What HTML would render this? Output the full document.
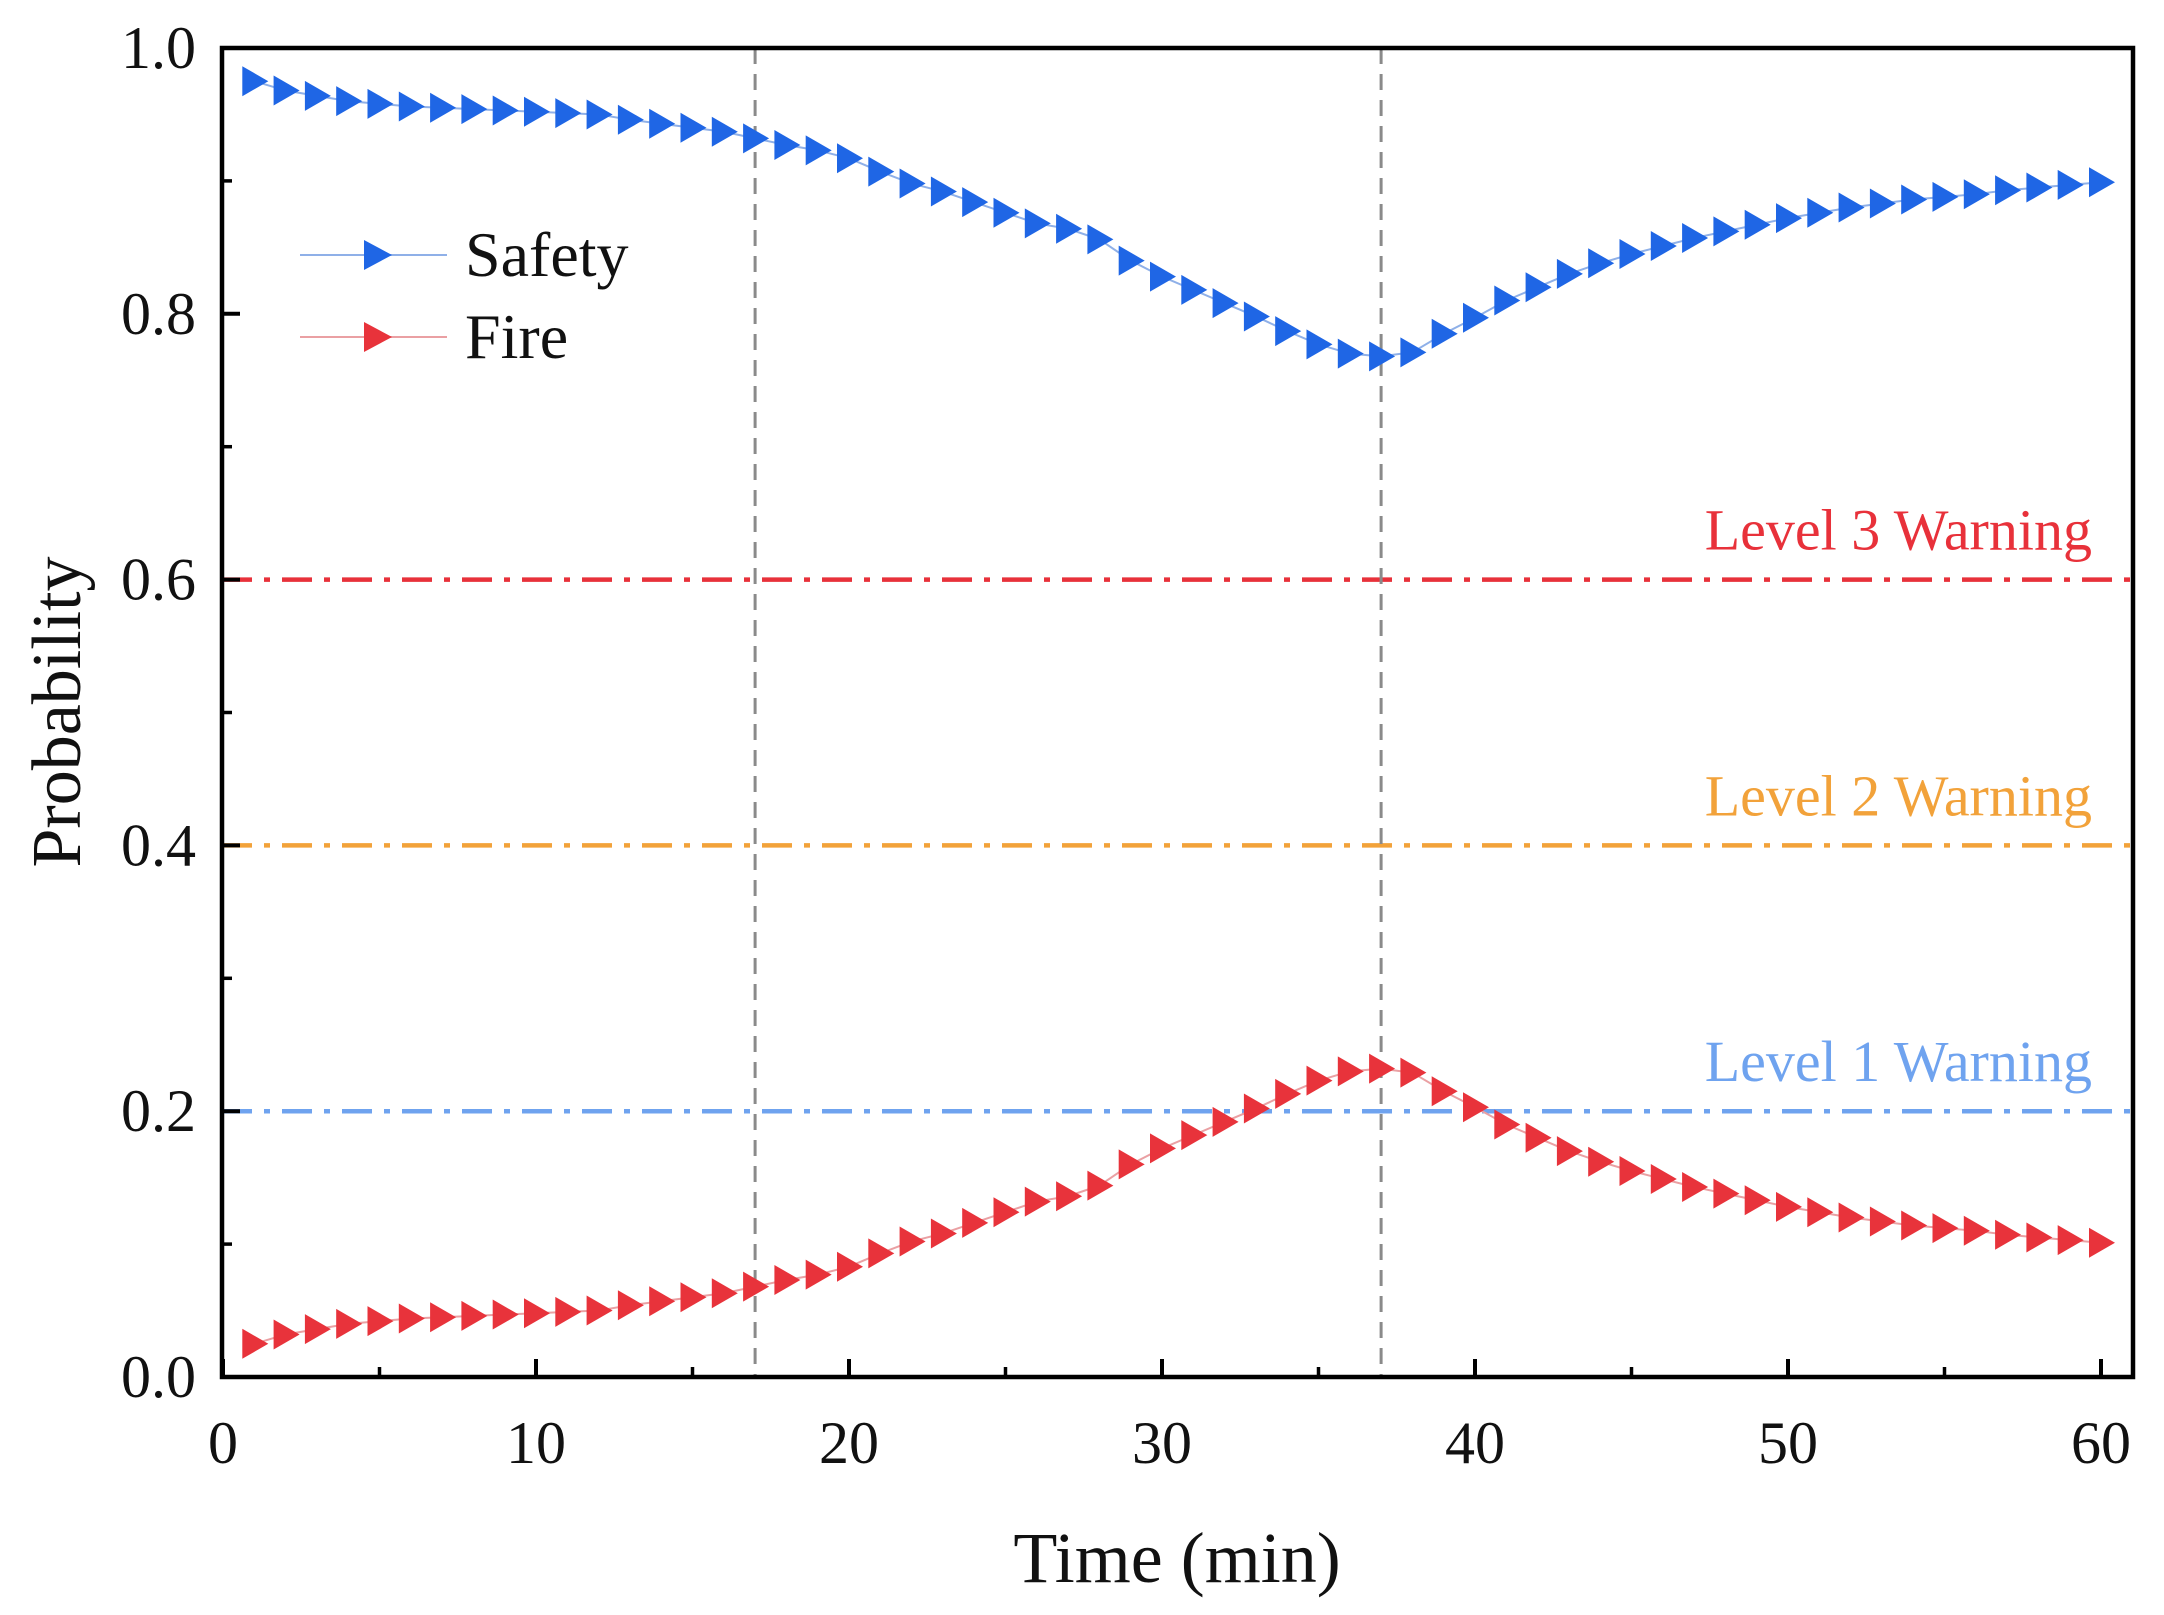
<!DOCTYPE html>
<html><head><meta charset="utf-8"><style>
html,body{margin:0;padding:0;background:#fff;}
svg{display:block;font-family:"Liberation Serif",serif;}
</style></head><body>
<svg id="chart" width="2164" height="1615" viewBox="0 0 2164 1615">
<g id="grid"></g>
<g id="marks"></g>
<g id="axes"></g>
</svg>
<script>
const times=[1,2,3,4,5,6,7,8,9,10,11,12,13,14,15,16,17,18,19,20,21,22,23,24,25,26,27,28,29,30,31,32,33,34,35,36,37,38,39,40,41,42,43,44,45,46,47,48,49,50,51,52,53,54,55,56,57,58,59,60];
const safety=[0.975,0.968,0.964,0.960,0.958,0.956,0.955,0.954,0.953,0.952,0.951,0.950,0.946,0.943,0.940,0.937,0.932,0.927,0.923,0.917,0.907,0.898,0.892,0.884,0.876,0.868,0.864,0.856,0.840,0.828,0.818,0.808,0.798,0.787,0.777,0.770,0.768,0.771,0.785,0.797,0.810,0.820,0.830,0.838,0.845,0.851,0.857,0.862,0.867,0.872,0.876,0.880,0.883,0.886,0.888,0.890,0.893,0.895,0.897,0.899];
const fire=[0.025,0.032,0.036,0.040,0.042,0.044,0.045,0.046,0.047,0.048,0.049,0.050,0.054,0.057,0.060,0.063,0.068,0.073,0.077,0.083,0.093,0.102,0.108,0.116,0.124,0.132,0.136,0.144,0.160,0.172,0.182,0.192,0.202,0.213,0.223,0.230,0.232,0.229,0.215,0.203,0.190,0.180,0.170,0.162,0.155,0.149,0.143,0.138,0.133,0.128,0.124,0.120,0.117,0.114,0.112,0.110,0.107,0.105,0.103,0.101];
const xTicks=[0,10,20,30,40,50,60];
const yTicks=[0.0,0.2,0.4,0.6,0.8,1.0];
const warnLevels=[0.2,0.4,0.6];
const warnLabels=["Level 1 Warning","Level 2 Warning","Level 3 Warning"];
const markerTimes=[17,37];

const L=222,R=2133,T=48,B=1377;
const X0=223,XU=31.3;
const xs=v=>X0+v*XU;
const ys=v=>B-(v)*(B-T);
const NS="http://www.w3.org/2000/svg";
function mk(tag,attrs,parent,text){const e=document.createElementNS(NS,tag);for(const k in attrs)e.setAttribute(k,attrs[k]);if(text!==undefined)e.textContent=text;parent.appendChild(e);return e;}
const grid=document.getElementById('grid'),marks=document.getElementById('marks'),axes=document.getElementById('axes');
const warnColors=["#6fa3ef","#f2a23a","#e8313a"];
warnLevels.forEach((v,i)=>{
  const ln=mk('line',{x1:L,x2:R,y1:ys(v),y2:ys(v),stroke:warnColors[i],'stroke-width':4.5,'stroke-dasharray':'30 12 6 12'},grid);
  
  
  const t=mk('text',{x:2092,y:ys(v)-30,'text-anchor':'end','font-size':58,fill:warnColors[i]},grid,warnLabels[i]);
  
  
});
markerTimes.forEach(v=>{
  const ln=mk('line',{x1:xs(v),x2:xs(v),y1:T,y2:B,stroke:'#8a8a8a','stroke-width':3,'stroke-dasharray':'16 10'},grid);
  
  
});
function series(vals,color,line,name){
  const g=mk('g',{},marks);
  
  
  const pts=times.map((t,i)=>xs(t)+','+ys(vals[i])).join(' ');
  mk('polyline',{points:pts,fill:'none',stroke:line,'stroke-width':2},g);
  times.forEach((t,i)=>{
    const cx=xs(t),cy=ys(vals[i]);
    const p=mk('polygon',{points:`${cx-12},${cy-15} ${cx+14},${cy} ${cx-12},${cy+15}`,fill:color},g);
    
    
  });
}
series(safety,'#1f66e5','#8fb0e8','safety');
series(fire,'#e8333b','#eaa0a3','fire');
const fr=mk('rect',{x:L,y:T,width:R-L,height:B-T,fill:'none',stroke:'#000','stroke-width':4.5},axes);


xTicks.forEach(v=>{
  mk('line',{x1:xs(v),x2:xs(v),y1:B,y2:B-18,stroke:'#000','stroke-width':4},axes);
  const t=mk('text',{x:xs(v),y:1463,'text-anchor':'middle','font-size':60,fill:'#111'},axes,String(v));
  
  
  if(v<60) mk('line',{x1:xs(v+5),x2:xs(v+5),y1:B,y2:B-10,stroke:'#000','stroke-width':3.5},axes);
});
yTicks.forEach(v=>{
  mk('line',{x1:L,x2:L+18,y1:ys(v),y2:ys(v),stroke:'#000','stroke-width':4},axes);
  const t=mk('text',{x:196,y:ys(v)+20,'text-anchor':'end','font-size':60,fill:'#111'},axes,v.toFixed(1));
  
  
  if(v<1) mk('line',{x1:L,x2:L+10,y1:ys(v+0.1),y2:ys(v+0.1),stroke:'#000','stroke-width':3.5},axes);
});
const xt=mk('text',{x:1177,y:1582,'text-anchor':'middle','font-size':72,fill:'#111'},axes,'Time (min)');


const yt=mk('text',{x:0,y:0,'text-anchor':'middle','font-size':70,fill:'#111',transform:'translate(80,712) rotate(-90)'},axes,'Probability');


const leg=[["Safety","#1f66e5","#8fb0e8",255],["Fire","#e8333b","#eaa0a3",337]];
leg.forEach(d=>{
  const g=mk('g',{},axes);
  
  
  mk('line',{x1:300,x2:447,y1:d[3],y2:d[3],stroke:d[2],'stroke-width':2},g);
  mk('polygon',{points:`${364},${d[3]-15} ${392},${d[3]} ${364},${d[3]+15}`,fill:d[1]},g);
  mk('text',{x:465,y:d[3]+21,'font-size':64,fill:'#111'},g,d[0]);
});
</script>
</body></html>
